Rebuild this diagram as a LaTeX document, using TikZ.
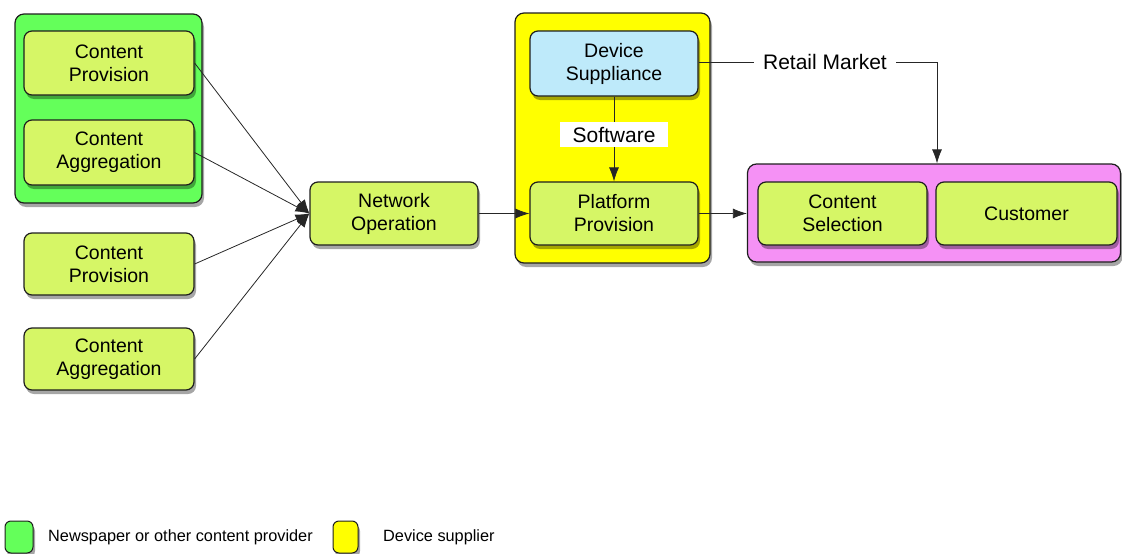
\documentclass[tikz,border=0pt]{standalone}
\usepackage{fontspec}
\setmainfont{Liberation Sans}
\usetikzlibrary{shadows,arrows.meta}

\definecolor{provgreen}{RGB}{100,255,90}
\definecolor{lime}{RGB}{214,246,102}
\definecolor{devyellow}{RGB}{255,255,0}
\definecolor{skyblue}{RGB}{190,234,250}
\definecolor{marketpink}{RGB}{245,145,245}
\definecolor{edge}{RGB}{30,30,30}

\tikzset{
  boxshadow/.style={drop shadow={shadow xshift=2pt,shadow yshift=-4pt,opacity=0.35,fill=black}},
  group/.style={draw=edge,line width=1.2pt,rounded corners=9pt,boxshadow},
  task/.style={draw=edge,line width=1.2pt,rounded corners=8pt,fill=lime,boxshadow,
    align=center,font=\fontsize{19.5}{23}\selectfont,inner sep=0pt},
  flow/.style={-{Latex[length=14pt,width=10pt]},line width=0.8pt,draw=black!85},
  lbl/.style={font=\fontsize{21}{24}\selectfont,fill=white},
  legendbox/.style={draw=edge,line width=1pt,rounded corners=6pt,boxshadow},
  legendtext/.style={font=\fontsize{16.3}{19}\selectfont,anchor=west,inner sep=0pt}
}

\begin{document}
\begin{tikzpicture}[x=1pt,y=-1pt]
\useasboundingbox (0,0) rectangle (1122,554);

% group frames
\node[group,fill=provgreen,minimum width=187pt,minimum height=189pt] (grpG) at (108.5,108.5) {};
\node[group,fill=devyellow,minimum width=195pt,minimum height=250pt] (grpY) at (612.5,138) {};
\node[group,fill=marketpink,minimum width=373pt,minimum height=98pt] (grpP) at (934,213) {};

% content side
\node[task,minimum width=170pt,minimum height=64pt] (cp1) at (109,63) {Content\\Provision};
\node[task,minimum width=170pt,minimum height=65pt] (ca1) at (109,152.5) {Content\\Aggregation};
\node[task,minimum width=170pt,minimum height=62pt] (cp2) at (109,264) {Content\\Provision};
\node[task,minimum width=170pt,minimum height=62pt] (ca2) at (109,359) {Content\\Aggregation};

% network and device side
\node[task,minimum width=168pt,minimum height=63pt] (net) at (394,213.5) {Network\\Operation};
\node[task,fill=skyblue,minimum width=168pt,minimum height=65pt] (dev) at (614,63.5) {Device\\Suppliance};
\node[task,minimum width=168pt,minimum height=63pt] (plat) at (614,213.5) {Platform\\Provision};

% market side
\node[task,minimum width=169pt,minimum height=63pt] (sel) at (842.5,213.5) {Content\\Selection};
\node[task,minimum width=181pt,minimum height=63pt] (cust) at (1026.5,213.5) {Customer};

% connectors
\draw[flow] (cp1.east) -- (net.west);
\draw[flow] (ca1.east) -- (net.west);
\draw[flow] (cp2.east) -- (net.west);
\draw[flow] (ca2.east) -- (net.west);
\draw[flow] (net.east) -- (plat.west);
\draw[flow] (plat.east) -- (grpP.west |- plat.east);
\draw[flow] (dev.south) -- node[lbl,minimum width=108pt,minimum height=25pt,inner sep=0pt,pos=0.45]{Software} (plat.north);
\coordinate (rm) at (937,62);
\draw[flow] (dev.east |- rm) -- node[lbl,pos=0.53,inner xsep=9pt]{Retail Market} (rm) -- (rm |- grpP.north);

% legend
\node[legendbox,fill=provgreen,minimum width=28pt,minimum height=32pt] (legG) at (19,537) {};
\node[legendtext] (legGt) at (48,537) {Newspaper or other content provider};
\node[legendbox,fill=devyellow,minimum width=25pt,minimum height=32pt] (legY) at (345.5,537) {};
\node[legendtext] (legYt) at (383,537) {Device supplier};
\end{tikzpicture}
\end{document}
